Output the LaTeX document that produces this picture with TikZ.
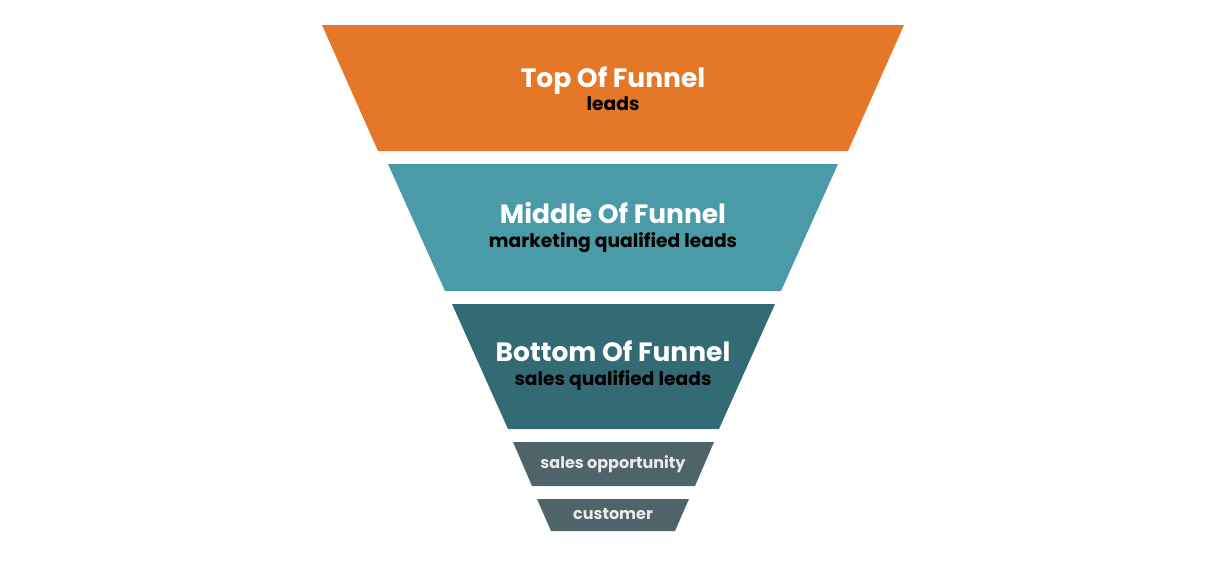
\documentclass[tikz,border=0pt]{standalone}
\usepackage{fontspec}
\setmainfont{Poppins}
\usepackage{xcolor}
\definecolor{topfunnel}{RGB}{229,119,41}
\definecolor{midfunnel}{RGB}{74,154,167}
\definecolor{botfunnel}{RGB}{51,107,117}
\definecolor{lowfunnel}{RGB}{79,100,104}

\begin{document}
\begin{tikzpicture}[x=1pt,y=-1pt]
	\tikzstyle{title}=[anchor=base,inner sep=0pt,text=white,font={\bfseries\fontsize{26.5}{30}\selectfont}]
	\tikzstyle{sub}=[anchor=base,inner sep=0pt,text=black,font={\bfseries\fontsize{18.7}{22}\selectfont}]
	\tikzstyle{small}=[anchor=base,inner sep=0pt,text=white!92!black,font={\bfseries\fontsize{16}{20}\selectfont}]
	
	\useasboundingbox (0,0) rectangle (1228,560);
	% funnel stages
	\fill [topfunnel] (322,25) -- (904,25) -- (848,151) -- (378,151) -- cycle;
	\fill [midfunnel] (388,164) -- (838,164) -- (781,291) -- (445,291) -- cycle;
	\fill [botfunnel] (452,304) -- (775,304) -- (719,429) -- (508,429) -- cycle;
	\fill [lowfunnel] (513,442) -- (714,442) -- (695,486) -- (532,486) -- cycle;
	\fill [lowfunnel] (537,499) -- (689,499) -- (675,531) -- (551,531) -- cycle;
	% labels
	\node [title] (top) at (613,87) {Top Of Funnel};
	\node [sub] (topsub) at (613,110) {leads};
	\node [title] (middle) at (613,223) {Middle Of Funnel};
	\node [sub] (middlesub) at (613,247) {marketing qualified leads};
	\node [title] (bottom) at (613,361) {Bottom Of Funnel};
	\node [sub] (bottomsub) at (613,385) {sales qualified leads};
	\node [small] (opportunity) at (613,468) {sales opportunity};
	\node [small] (customer) at (613,519) {customer};
\end{tikzpicture}
\end{document}
